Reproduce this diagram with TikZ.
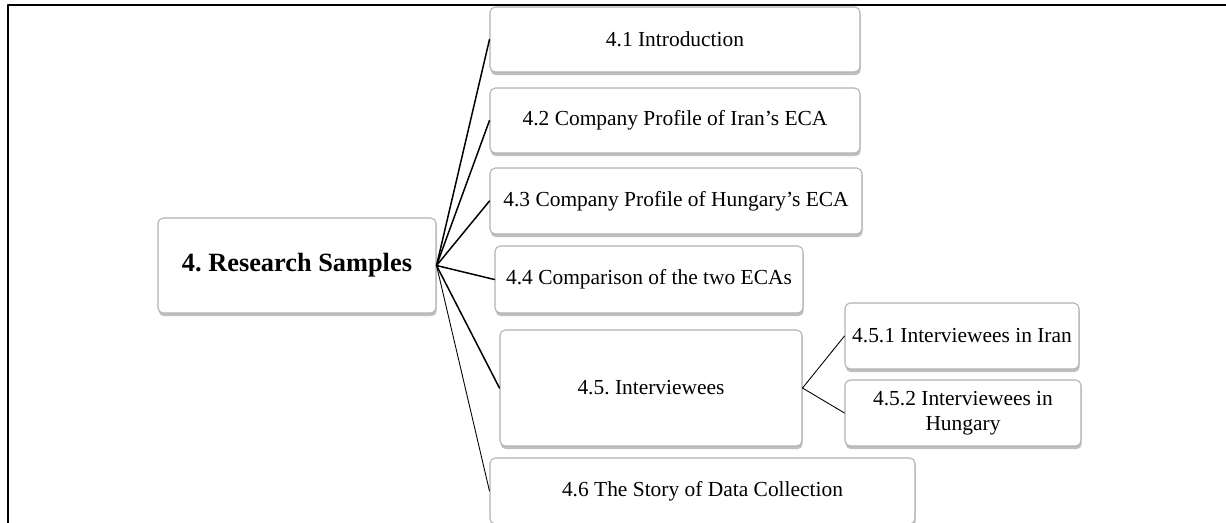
\documentclass[tikz,border=0pt]{standalone}
\usepackage{fontspec}
\setmainfont{Liberation Serif}
\usetikzlibrary{shadows}
\frenchspacing
\tikzset{
  box/.style={draw=gray!60, fill=white, rounded corners=3pt, line width=0.6pt,
    inner sep=2pt, align=center, font=\fontsize{12.2}{14}\selectfont,
    drop shadow={opacity=0.5, shadow xshift=0.4pt, shadow yshift=-1.8pt}},
  link/.style={line width=0.85pt},
  thinlink/.style={line width=0.5pt}
}
\begin{document}
\begin{tikzpicture}[x=0.02cm, y=-0.02cm, line join=round, line cap=round]
			\useasboundingbox (0,0) rectangle (1226,522);
			% frame
			\draw[line width=1.2pt] (8,524) -- (8,5) -- (1228,5);
			% boxes
			\node[box, minimum width=278*0.02cm, minimum height=95*0.02cm,
			      font=\fontsize{15}{18}\selectfont\bfseries] (root) at (297,265.5) {4. Research Samples};
			\node[box, minimum width=370*0.02cm, minimum height=65*0.02cm] (n41) at (675,39.5) {4.1 Introduction};
			\node[box, minimum width=370*0.02cm, minimum height=65*0.02cm] (n42) at (675,120.5) {4.2 Company Profile of Iran’s ECA};
			\node[box, minimum width=372*0.02cm, minimum height=66*0.02cm] (n43) at (676,201) {4.3 Company Profile of Hungary’s ECA};
			\node[box, minimum width=308*0.02cm, minimum height=67*0.02cm] (n44) at (649,279.5) {4.4 Comparison of the two ECAs};
			\node[box, minimum width=302*0.02cm, minimum height=116*0.02cm] (n45) at (651,388) {4.5. Interviewees};
			\node[box, minimum width=234*0.02cm, minimum height=66*0.02cm] (n451) at (962,336) {4.5.1 Interviewees in Iran};
			\node[box, minimum width=236*0.02cm, minimum height=66*0.02cm] (n452) at (963,413) {4.5.2 Interviewees in\\Hungary};
			\node[box, minimum width=425*0.02cm, minimum height=66*0.02cm] (n46) at (702.5,491) {4.6 The Story of Data Collection};
			% connectors
			\foreach \n in {n41,n42,n43,n44,n45}
			\draw[link] (root.east) -- (\n.west);
			\draw[thinlink] (root.east) -- (n46.west);
			\foreach \n in {n451,n452}
			\draw[thinlink] (n45.east) -- (\n.west);
\end{tikzpicture}
\end{document}
